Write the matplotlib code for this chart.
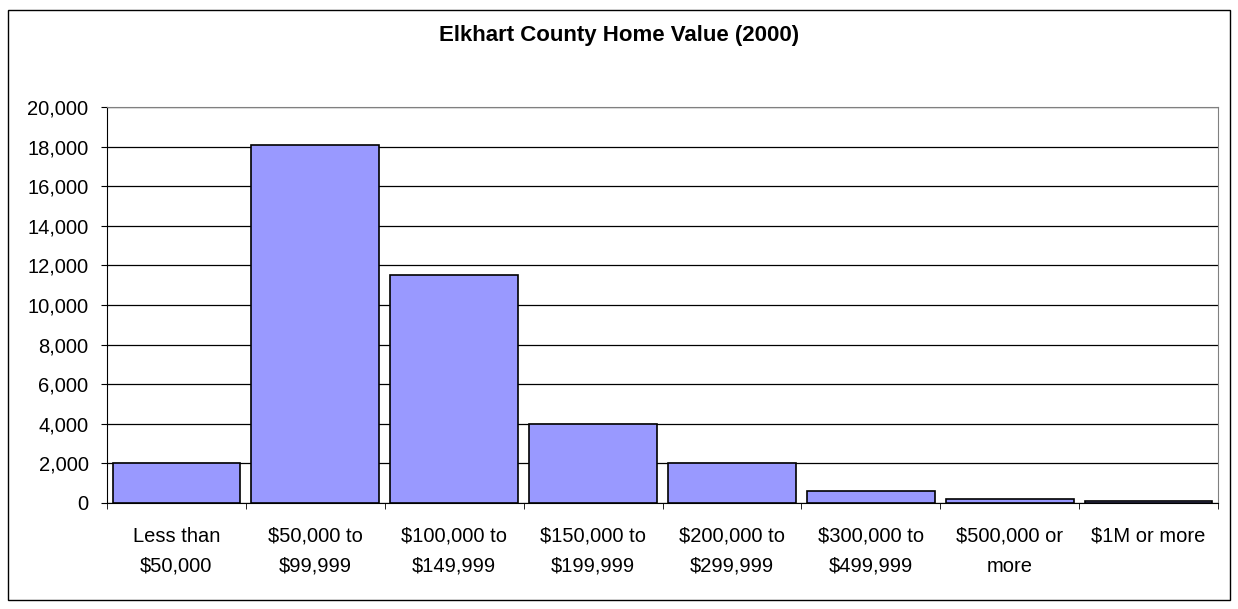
import matplotlib.pyplot as plt
from matplotlib.patches import Rectangle
from matplotlib.ticker import FuncFormatter, FixedLocator, NullFormatter

plt.rcParams["font.family"] = ["Liberation Sans", "DejaVu Sans"]

categories = ["Less than\n$50,000", "$50,000 to\n$99,999", "$100,000 to\n$149,999",
              "$150,000 to\n$199,999", "$200,000 to\n$299,999", "$300,000 to\n$499,999",
              "$500,000 or\nmore", "$1M or more"]
homes = [2010, 18100, 11500, 4010, 2020, 620, 190, 100]
y_ticks = list(range(0, 20001, 2000))

fig = plt.figure(figsize=(12.38, 6.09), dpi=100)
fig.patches.append(Rectangle((8 / 1238, 9 / 609), 1222 / 1238, 590 / 609,
                             transform=fig.transFigure, fill=False,
                             edgecolor="black", linewidth=1))

ax = fig.add_axes([107 / 1238, 1 - 503 / 609, 1111 / 1238, 396 / 609])
x = list(range(len(categories)))
ax.bar(x, homes, width=0.92, color="#9999FF", edgecolor="black", linewidth=1.2, zorder=3)

ax.set_xlim(-0.5, len(categories) - 0.5)
ax.set_ylim(0, 20000)
ax.set_yticks(y_ticks)
ax.yaxis.set_major_formatter(FuncFormatter(lambda v, p: f"{int(v):,}"))
ax.grid(axis="y", color="black", linewidth=0.9, zorder=0)

ax.set_xticks(x)
ax.set_xticklabels(categories, fontsize=14.5, linespacing=1.75)
ax.tick_params(axis="x", which="major", length=0, pad=17)
ax.xaxis.set_minor_locator(FixedLocator([i - 0.5 for i in range(len(categories) + 1)]))
ax.xaxis.set_minor_formatter(NullFormatter())
ax.tick_params(axis="x", which="minor", length=4.3, color="black", direction="out")
ax.tick_params(axis="y", length=4.3, labelsize=14.5, pad=9)

for side in ["top", "right"]:
    ax.spines[side].set_color("#808080")
ax.spines["left"].set_color("black")
ax.spines["bottom"].set_color("black")

fig.text(0.5, 1 - 36 / 609, "Elkhart County Home Value (2000)", ha="center", va="center",
         fontsize=16, fontweight="bold")

fig.savefig("out.png", dpi=100)
